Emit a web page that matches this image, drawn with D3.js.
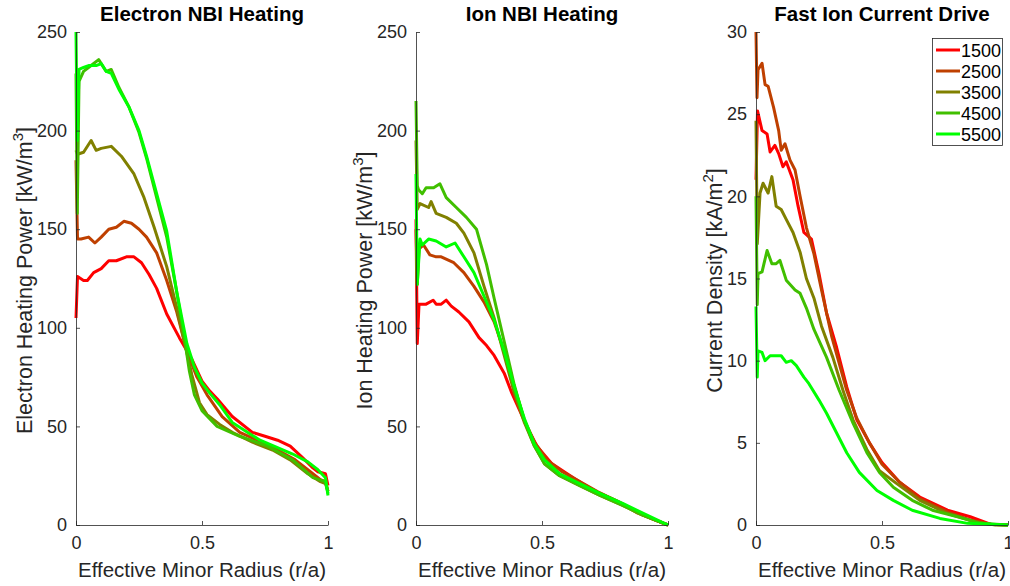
<!DOCTYPE html>
<html>
<head>
<meta charset="utf-8">
<script src="https://cdn.jsdelivr.net/npm/d3@7"></script>
<style>
    body { margin: 0; background: #ffffff; }
    svg { display: block; font-family: "Liberation Sans", Arial, sans-serif; }
</style>
</head>
<body>
<svg id="chart" width="1010" height="586"></svg>
<script>
// Beam energies for the legend, one colour per energy.
var energies = ["1500", "2500", "3500", "4500", "5500"];
var colors = ["#ff0000", "#bf4000", "#808000", "#40bf00", "#00ff00"];

// Electron NBI heating [kW/m^3] against r/a.
var electron1500 = [[0,105],[0.006,126],[0.03,124],[0.045,124],[0.07,128],[0.1,130],[0.13,134],[0.16,134],[0.2,136],[0.23,136],[0.26,133],[0.29,127],[0.32,120],[0.36,107],[0.41,95],[0.46,84],[0.5,73],[0.53,68],[0.56,64],[0.62,55],[0.7,47],[0.75,45],[0.8,43],[0.85,40],[0.9,34],[0.94,29],[0.96,27],[0.99,26],[1.0,20]];
var electron2500 = [[0,185],[0.006,145],[0.02,145],[0.05,146],[0.075,143],[0.1,146],[0.13,150],[0.16,151],[0.19,154],[0.22,153],[0.25,150],[0.28,146],[0.32,138],[0.36,124],[0.4,108],[0.44,88],[0.48,75],[0.52,66],[0.58,55],[0.65,47],[0.72,43],[0.8,38],[0.87,33],[0.93,27],[0.97,23],[0.99,22],[1.0,17]];
var electron3500 = [[0,190],[0.006,188],[0.03,189],[0.06,195],[0.08,190],[0.1,191],[0.14,192],[0.18,187],[0.23,178],[0.27,166],[0.31,151],[0.36,131],[0.4,110],[0.43,93],[0.46,76],[0.49,62],[0.52,56],[0.57,51],[0.62,47],[0.7,42],[0.78,38],[0.85,33],[0.92,26],[0.97,22],[0.99,21],[1.0,17]];
var electron4500 = [[0,229],[0.005,158],[0.012,225],[0.03,230],[0.06,233],[0.09,236],[0.12,230],[0.14,231],[0.17,222],[0.21,212],[0.25,199],[0.28,186],[0.32,166],[0.36,146],[0.4,118],[0.43,95],[0.45,78],[0.47,66],[0.5,58],[0.56,50],[0.65,45],[0.76,40],[0.86,33],[0.94,24],[0.99,22],[1.0,16]];
var electron5500 = [[0,250],[0.005,195],[0.012,231],[0.03,232],[0.05,233],[0.08,233],[0.1,234],[0.12,230],[0.14,229],[0.17,221],[0.21,212],[0.25,200],[0.28,187],[0.32,168],[0.36,149],[0.4,118],[0.44,92],[0.47,80],[0.5,72],[0.53,67],[0.57,61],[0.62,52],[0.73,43],[0.86,36],[0.92,32],[0.96,28],[0.99,24],[1.0,15]];

// Ion NBI heating [kW/m^3] against r/a.
var ion1500 = [[0,155],[0.005,92],[0.012,112],[0.04,112],[0.068,114],[0.08,112],[0.1,112],[0.12,114],[0.14,111],[0.17,108],[0.21,103],[0.25,95],[0.28,91],[0.31,86],[0.35,77],[0.38,67],[0.44,50],[0.48,40],[0.54,31],[0.6,26],[0.66,21],[0.73,16],[0.8,12],[0.86,8],[0.94,3],[1.0,0]];
var ion2500 = [[0,150],[0.005,122],[0.012,140],[0.03,142],[0.055,137],[0.08,136],[0.1,136],[0.15,133],[0.19,128],[0.23,121],[0.27,113],[0.31,103],[0.35,88],[0.39,70],[0.43,53],[0.47,42],[0.52,33],[0.58,27],[0.65,22],[0.72,17],[0.8,12],[0.88,6],[0.94,3],[1.0,0]];
var ion3500 = [[0,195],[0.005,160],[0.016,163],[0.05,161],[0.06,164],[0.08,158],[0.12,156],[0.16,153],[0.19,148],[0.23,138],[0.27,121],[0.31,105],[0.35,86],[0.39,67],[0.43,52],[0.47,40],[0.51,31],[0.57,25],[0.65,20],[0.73,15],[0.82,10],[0.9,5],[1.0,0]];
var ion4500 = [[0,215],[0.005,172],[0.01,170],[0.025,168],[0.04,171],[0.07,171],[0.095,173],[0.12,166],[0.16,161],[0.2,156],[0.24,150],[0.28,132],[0.31,115],[0.35,93],[0.39,71],[0.43,53],[0.47,40],[0.51,31],[0.57,25],[0.65,20],[0.73,15],[0.82,10],[0.9,5],[1.0,0]];
var ion5500 = [[0,178],[0.005,122],[0.016,145],[0.025,142],[0.05,145],[0.08,144],[0.12,141],[0.155,143],[0.19,136],[0.23,128],[0.27,116],[0.31,104],[0.35,88],[0.39,70],[0.43,54],[0.47,41],[0.51,33],[0.57,26],[0.65,21],[0.73,16],[0.82,11],[0.9,6],[1.0,0]];

// Fast ion current density [kA/m^2] against r/a.
var current1500 = [[0,21],[0.006,25.2],[0.024,24],[0.044,23.8],[0.056,22.7],[0.075,23.1],[0.09,22.6],[0.107,21.8],[0.12,22.1],[0.147,21],[0.167,19.4],[0.19,17.8],[0.22,17.4],[0.25,15.3],[0.28,12.9],[0.32,10.8],[0.36,8.4],[0.4,6.4],[0.45,5.0],[0.5,3.8],[0.57,2.6],[0.65,1.7],[0.76,0.9],[0.85,0.5],[0.93,0.05],[1,0]];
var current2500 = [[0,30],[0.004,26],[0.008,27.7],[0.024,28.1],[0.036,26.8],[0.048,26.7],[0.07,25.4],[0.09,24],[0.1,22.8],[0.115,23.2],[0.135,22.2],[0.155,21.6],[0.175,20],[0.2,18.1],[0.23,16.5],[0.26,14.3],[0.3,11.5],[0.36,8.2],[0.4,6.5],[0.45,5],[0.5,3.7],[0.57,2.6],[0.65,1.6],[0.76,0.8],[0.85,0.3],[0.93,0.05],[1,0]];
var current3500 = [[0,24.6],[0.005,17.1],[0.016,20.2],[0.028,20.8],[0.048,20.2],[0.063,21.2],[0.08,19.4],[0.1,19.2],[0.12,18.6],[0.147,17.8],[0.175,16.6],[0.2,15.0],[0.23,13.8],[0.26,12.1],[0.305,10.2],[0.345,8.2],[0.385,6.4],[0.44,4.6],[0.49,3.3],[0.56,2.5],[0.65,1.5],[0.76,0.7],[0.87,0.2],[0.95,0],[1,0]];
var current4500 = [[0,20],[0.005,13.4],[0.008,15.3],[0.024,15.4],[0.044,16.7],[0.063,15.9],[0.08,15.9],[0.095,16.1],[0.12,14.9],[0.155,14.3],[0.175,14.1],[0.2,13.2],[0.23,11.9],[0.28,10.2],[0.33,8.2],[0.385,6.2],[0.44,4.4],[0.49,3.2],[0.545,2.3],[0.62,1.5],[0.7,0.9],[0.8,0.5],[0.89,0.1],[1,0]];
var current5500 = [[0,13.3],[0.005,9.0],[0.008,10.6],[0.024,10.5],[0.036,10.0],[0.056,10.3],[0.08,10.3],[0.1,10.3],[0.12,9.9],[0.14,10.0],[0.16,9.7],[0.19,9.0],[0.21,8.6],[0.25,7.6],[0.28,6.8],[0.32,5.6],[0.36,4.4],[0.41,3.2],[0.48,2.1],[0.545,1.5],[0.62,0.9],[0.73,0.4],[0.84,0.1],[1,0]];

var xTicks = [0, 0.5, 1];
var xTickLabels = ["0", "0.5", "1"];

var panels = [
    {
        title: "Electron NBI Heating",
        label: "Electron Heating Power [kW/m", sup: "3",
        left: 76, labelX: 32,
        yMax: 250, yTicks: [0, 50, 100, 150, 200, 250],
        series: [electron1500, electron2500, electron3500, electron4500, electron5500]
    },
    {
        title: "Ion NBI Heating",
        label: "Ion Heating Power [kW/m", sup: "3",
        left: 416, labelX: 372,
        yMax: 250, yTicks: [0, 50, 100, 150, 200, 250],
        series: [ion1500, ion2500, ion3500, ion4500, ion5500]
    },
    {
        title: "Fast Ion Current Drive",
        label: "Current Density [kA/m", sup: "2",
        left: 756, labelX: 722,
        yMax: 30, yTicks: [0, 5, 10, 15, 20, 25, 30],
        series: [current1500, current2500, current3500, current4500, current5500]
    }
];

var plotWidth = 252;
var plotTop = 32;
var plotBottom = 525;
var svg = d3.select("#chart");

function drawPanel(panel) {
    var x = d3.scaleLinear().domain([0, 1]).range([panel.left, panel.left + plotWidth]);
    var y = d3.scaleLinear().domain([0, panel.yMax]).range([plotBottom, plotTop]);
    var g = svg.append("g");

    // Curves, 1500 first so the 5500 curve sits on top.
    var line = d3.line()
        .x(function (d) { return x(d[0]); })
        .y(function (d) { return y(d[1]); });
    g.selectAll("path.curve")
        .data(panel.series)
        .enter()
        .append("path")
        .attr("class", "curve")
        .attr("d", line)
        .attr("fill", "none")
        .attr("stroke", function (d, i) { return colors[i]; })
        .attr("stroke-width", 3)
        .attr("stroke-linejoin", "round");

    // Axes with inward ticks, only left and bottom lines.
    var xAxis = d3.axisBottom(x)
        .tickValues(xTicks)
        .tickFormat(function (d, i) { return xTickLabels[i]; })
        .tickSizeInner(-4)
        .tickSizeOuter(0)
        .tickPadding(11);
    var yAxis = d3.axisLeft(y)
        .tickValues(panel.yTicks)
        .tickSizeInner(-4)
        .tickSizeOuter(0)
        .tickPadding(9);
    var gx = g.append("g")
        .attr("transform", "translate(0," + plotBottom + ")")
        .call(xAxis);
    var gy = g.append("g")
        .attr("transform", "translate(" + panel.left + ",0)")
        .call(yAxis);
    [gx, gy].forEach(function (a) {
        a.selectAll("path, line").attr("stroke", "#262626").attr("stroke-width", 0.8);
        a.selectAll("text")
            .attr("font-size", 18)
            .attr("fill", "#262626")
            .attr("font-family", "Liberation Sans, Arial, sans-serif");
    });

    // Title.
    g.append("text")
        .attr("x", panel.left + plotWidth / 2)
        .attr("y", 21)
        .attr("text-anchor", "middle")
        .attr("font-size", 20.5)
        .attr("font-weight", "bold")
        .attr("fill", "#000000")
        .text(panel.title);

    // X axis label.
    g.append("text")
        .attr("x", panel.left + plotWidth / 2)
        .attr("y", 577)
        .attr("text-anchor", "middle")
        .attr("font-size", 20.5)
        .attr("fill", "#262626")
        .text("Effective Minor Radius (r/a)");

    // Y axis label with superscript unit.
    var yLabel = g.append("text")
        .attr("transform", "translate(" + panel.labelX + "," + ((plotTop + plotBottom) / 2 + 2) + ") rotate(-90)")
        .attr("text-anchor", "middle")
        .attr("font-size", 21.5)
        .attr("fill", "#262626");
    yLabel.append("tspan").text(panel.label);
    yLabel.append("tspan").attr("dy", -9).attr("font-size", 15).text(panel.sup);
    yLabel.append("tspan").attr("dy", 9).text("]");
}

panels.forEach(drawPanel);

// Legend in the third panel.
var legend = svg.append("g").attr("transform", "translate(932,38)");
legend.append("rect")
    .attr("x", 0.5)
    .attr("y", 0.5)
    .attr("width", 70)
    .attr("height", 107)
    .attr("fill", "#ffffff")
    .attr("stroke", "#262626")
    .attr("stroke-width", 0.8);
var rows = legend.selectAll("g.row")
    .data(energies)
    .enter()
    .append("g")
    .attr("class", "row")
    .attr("transform", function (d, i) { return "translate(0," + (12 + i * 21) + ")"; });
rows.append("line")
    .attr("x1", 4)
    .attr("x2", 28)
    .attr("stroke", function (d, i) { return colors[i]; })
    .attr("stroke-width", 3);
rows.append("text")
    .attr("x", 29)
    .attr("y", 6.5)
    .attr("font-size", 18)
    .attr("fill", "#000000")
    .text(function (d) { return d; });
</script>
</body>
</html>
